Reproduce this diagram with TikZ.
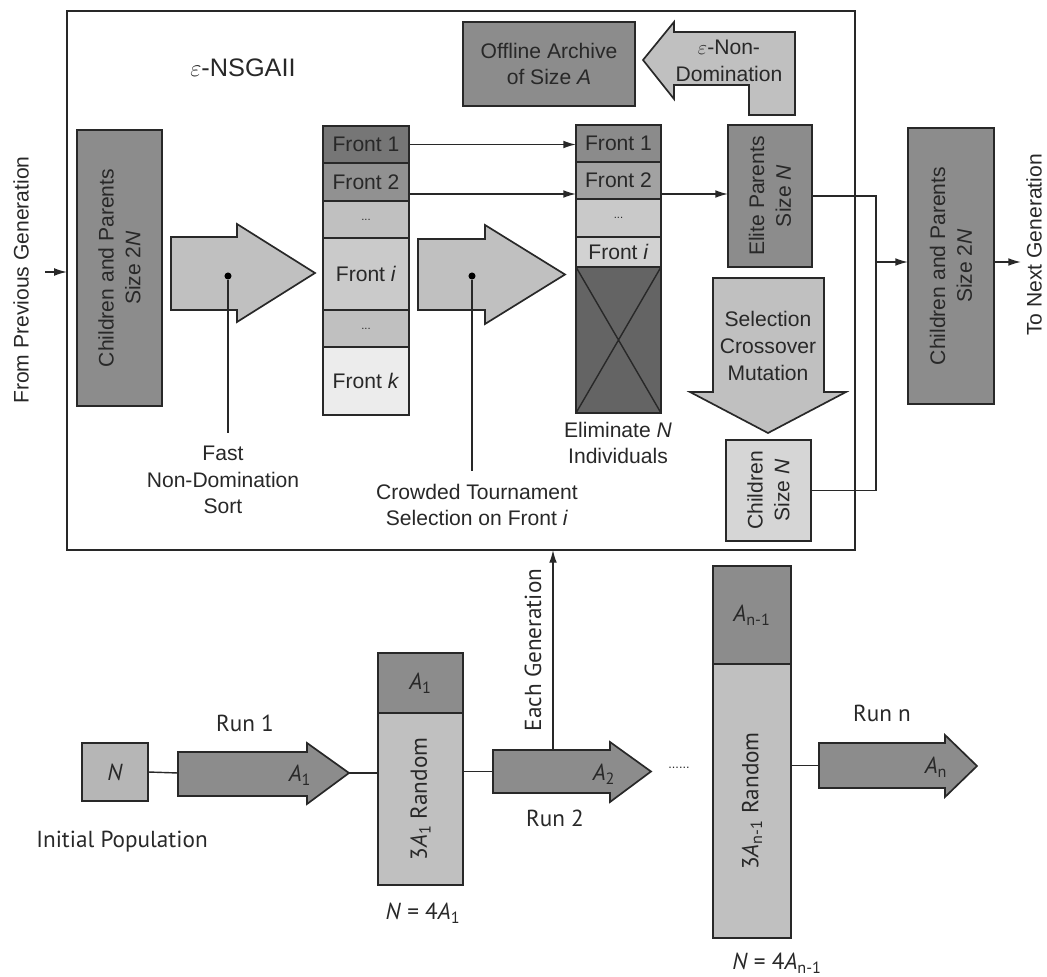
\documentclass[tikz,border=0pt]{standalone}
\usepackage{fontspec}
\setmainfont{Liberation Sans}
\newfontfamily\runfont{PT Sans}
\usetikzlibrary{arrows.meta}

\newcommand{\topfont}{\fontsize{15}{19}\selectfont}
\newcommand{\botfont}{\runfont\fontsize{16.5}{19}\selectfont}

\tikzset{
  box/.style={draw=linegray,line width=1.2pt,inner sep=0pt,outer sep=0pt,font=\topfont,text=linegray},
  vtxt/.style={rotate=90,align=center,font=\topfont,text=linegray},
  note/.style={align=center,font=\topfont,text=linegray,inner ysep=9pt},
  runtxt/.style={align=center,font=\botfont,text=linegray},
  con/.style={draw=linegray,line width=1pt},
  arr/.style={con,-{Latex[length=9pt,width=5.5pt]}},
  bigarrow/.style={fill=arrowgray,draw=linegray,line width=1.2pt,line join=miter},
  runarrow/.style={fill=boxgray,draw=linegray,line width=1.2pt,line join=miter},
  dot/.style={circle,fill=black,inner sep=0pt,minimum size=5pt},
  dotsrow/.style={box,font=\fontsize{8}{8}\selectfont}
}

\begin{document}
\begin{tikzpicture}[x=0.025cm,y=-0.025cm,line cap=butt]
  \definecolor{linegray}{RGB}{40,40,40}
  \definecolor{boxgray}{RGB}{140,140,140}
  \definecolor{arrowgray}{RGB}{192,192,192}
  \definecolor{frontone}{RGB}{118,118,118}
  \definecolor{fronttwo}{RGB}{145,145,145}
  \definecolor{frontdots}{RGB}{192,192,192}
  \definecolor{fronti}{RGB}{202,202,202}
  \definecolor{frontk}{RGB}{236,236,236}
  \definecolor{elimgray}{RGB}{100,100,100}
  \definecolor{kidsgray}{RGB}{214,214,214}

  \useasboundingbox (0,0) rectangle (1047,977);

  % outer frame and title
  \node[box,minimum width=19.7cm,minimum height=13.475cm] (frame) at (461,280.5) {};
  \node[font=\fontsize{18}{20}\selectfont,text=linegray] (title) at (243,68) {$\varepsilon$-NSGAII};

  % incoming population
  \coordinate (prevgen) at (45,272);
  \node[vtxt] (prevtxt) at (21,280) {From Previous Generation};
  \draw[arr] (prevgen) -- (prevgen -| frame.west);
  \node[box,fill=boxgray,minimum width=2.125cm,minimum height=6.9cm] (cpin) at (119.5,268) {};
  \node[vtxt] (cpintxt) at (cpin) {Children and Parents\\Size 2\textit{N}};

  % fast non-domination sort
  \filldraw[bigarrow] (171,237) -- (237,237) -- (237,224) -- (315,273) -- (237,322) -- (237,310) -- (171,310) -- cycle;
  \node[dot] (sortdot) at (228,276) {};
  \node[note] (sortlbl) at (223,480) {Fast\\Non-Domination\\Sort};
  \draw[con] (sortdot) -- (sortdot |- sortlbl.north);

  % sorted fronts
  \node[box,fill=frontone,minimum width=2.15cm,minimum height=0.925cm] (f1) at (366,144.5) {Front 1};
  \node[box,fill=fronttwo,minimum width=2.15cm,minimum height=0.95cm] (f2) at (366,182) {Front 2};
  \node[dotsrow,fill=frontdots,minimum width=2.15cm,minimum height=0.925cm] (fd1) at (366,219.5) {...};
  \node[box,fill=fronti,minimum width=2.15cm,minimum height=1.8cm] (fi) at (366,274) {Front \textit{i}};
  \node[dotsrow,fill=frontdots,minimum width=2.15cm,minimum height=0.925cm] (fd2) at (366,328.5) {...};
  \node[box,fill=frontk,minimum width=2.15cm,minimum height=1.7cm] (fk) at (366,381) {Front \textit{k}};

  % crowded tournament selection
  \filldraw[bigarrow] (418,239) -- (485,239) -- (485,225) -- (565,274.5) -- (485,324) -- (485,310) -- (418,310) -- cycle;
  \node[dot] (crowddot) at (472,276) {};
  \node[note] (crowdlbl) at (477,505) {Crowded Tournament\\Selection on Front \textit{i}};
  \draw[con] (crowddot) -- (crowddot |- crowdlbl.north);

  % kept fronts, rest eliminated
  \node[box,fill=frontone!85!white,minimum width=2.125cm,minimum height=0.925cm] (e1) at (618.5,143.5) {Front 1};
  \node[box,fill=fronttwo!85!white,minimum width=2.125cm,minimum height=0.925cm] (e2) at (618.5,180.5) {Front 2};
  \node[dotsrow,fill=frontdots!85!white,minimum width=2.125cm,minimum height=0.95cm] (ed) at (618.5,218) {...};
  \node[box,fill=fronti!85!white,minimum width=2.125cm,minimum height=0.75cm] (ei) at (618.5,252) {Front \textit{i}};
  \node[box,fill=elimgray,minimum width=2.125cm,minimum height=3.65cm] (ex) at (618.5,340) {};
  \draw[con] (ex.north west) -- (ex.south east) (ex.north east) -- (ex.south west);
  \node[note,inner ysep=2pt] (elimlbl) at (618,443) {Eliminate \textit{N}\\Individuals};

  \draw[arr] (f1.east) -- (f1.east -| e1.west);
  \coordinate (f2out) at ([yshift=-0.3cm]f2.east);
  \draw[arr] (f2out) -- (f2out -| e2.west);

  % archive
  \node[box,fill=boxgray,minimum width=4.3cm,minimum height=2.1cm,align=center] (archive) at (549,64) {Offline Archive\\of Size \textit{A}};
  \filldraw[bigarrow] (643,60) -- (674,22) -- (674,32) -- (795,32) -- (795,115) -- (749,115) -- (749,85) -- (674,85) -- (674,99) -- cycle;
  \node[align=center,font=\topfont,text=linegray] (nondom) at (729,61) {$\varepsilon$-Non-\\Domination};

  % elite parents and children
  \node[box,fill=boxgray,minimum width=2.1cm,minimum height=3.55cm] (elite) at (770,196) {};
  \node[vtxt] (elitetxt) at (elite) {Elite Parents\\Size \textit{N}};
  \draw[arr] (f2out -| e2.east) -- (f2out -| elite.west);
  \filldraw[bigarrow] (713,278) -- (824,278) -- (824,392) -- (846,392) -- (768,433) -- (690,392) -- (713,392) -- cycle;
  \node[align=center,font=\topfont,text=linegray] (genop) at (768,346) {Selection\\Crossover\\Mutation};
  \node[box,fill=kidsgray,minimum width=2.125cm,minimum height=2.525cm] (kids) at (768.5,490.5) {};
  \node[vtxt] (kidstxt) at (kids) {Children\\Size \textit{N}};

  % merge into next generation
  \coordinate (merge) at (876,262);
  \draw[con] (elite.east) -| (merge) |- (kids.east);
  \node[box,fill=boxgray,minimum width=2.15cm,minimum height=6.9cm] (cpout) at (951,266) {};
  \node[vtxt] (cpouttxt) at (cpout) {Children and Parents\\Size 2\textit{N}};
  \draw[arr] (merge) -- (merge -| cpout.west);
  \coordinate (nextgen) at (1021,262);
  \draw[arr] (cpout.east |- merge) -- (nextgen);
  \node[vtxt,inner sep=1pt] (nexttxt) at (1034,245) {To Next Generation};

  % runs
  \node[box,fill=arrowgray!95!black,minimum width=1.65cm,minimum height=1.45cm,font=\botfont] (nbox) at (115,772) {\textit{N}};
  \node[runtxt] (poplbl) at (122,842) {Initial Population};
  \filldraw[runarrow] (178,752) -- (307,752) -- (307,743) -- (349,773) -- (307,804) -- (307,796) -- (178,796) -- cycle;
  \coordinate (run1tail) at (178,773);
  \coordinate (run1tip) at (349,773);
  \node[runtxt] (run1lbl) at (245,723) {Run 1};
  \node[runtxt] (run1a) at (300,775) {\textit{A}\textsubscript{1}};
  \draw[con] (nbox.east) -- (run1tail);

  \node[box,fill=boxgray,minimum width=2.125cm,minimum height=1.5cm,font=\botfont] (a1top) at (420.5,683) {\textit{A}\textsubscript{1}};
  \node[box,fill=arrowgray,minimum width=2.125cm,minimum height=4.3cm] (a1rand) at (420.5,799) {};
  \node[vtxt,font=\botfont] (a1txt) at (a1rand) {3\textit{A}\textsubscript{1} Random};
  \node[runtxt] (a1eq) at (423,913) {\textit{N} = 4\textit{A}\textsubscript{1}};
  \draw[con] (run1tip) -- (run1tip -| a1rand.west);

  \filldraw[runarrow] (493,750) -- (610,750) -- (610,742) -- (651,771.5) -- (610,802) -- (610,793) -- (493,793) -- cycle;
  \coordinate (run2tail) at (493,771.5);
  \coordinate (run2top) at (553,750);
  \node[runtxt] (run2lbl) at (555,818) {Run 2};
  \node[runtxt] (run2a) at (604,774) {\textit{A}\textsubscript{2}};
  \draw[con] (a1rand.east |- run2tail) -- (run2tail);
  \draw[arr] (run2top) -- (run2top |- frame.south);
  \node[vtxt,font=\botfont] (eachgen) at (533,650) {Each Generation};
  \node[runtxt,font=\fontsize{9}{9}\selectfont] (skip) at (679,768) {......};

  \node[box,fill=boxgray,minimum width=1.95cm,minimum height=2.45cm,font=\botfont] (antop) at (752,615) {\textit{A}\textsubscript{n-1}};
  \node[box,fill=arrowgray,minimum width=1.95cm,minimum height=6.85cm] (anrand) at (752,801) {};
  \node[vtxt,font=\botfont] (antxt) at (anrand) {3\textit{A}\textsubscript{n-1} Random};
  \node[runtxt] (aneq) at (777,963) {\textit{N} = 4\textit{A}\textsubscript{n-1}};

  \filldraw[runarrow] (819,743) -- (945,743) -- (945,735) -- (977,766) -- (945,797) -- (945,788) -- (819,788) -- cycle;
  \coordinate (runntail) at (819,765.5);
  \node[runtxt] (runnlbl) at (882,713) {Run n};
  \node[runtxt] (runna) at (936,767) {\textit{A}\textsubscript{n}};
  \draw[con] (anrand.east |- runntail) -- (runntail);
\end{tikzpicture}
\end{document}
